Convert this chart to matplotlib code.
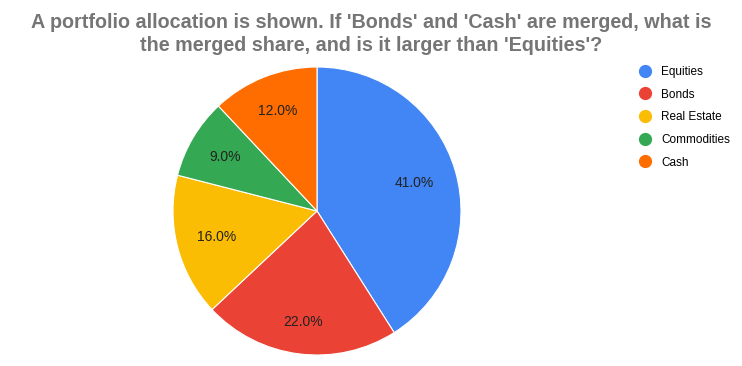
import matplotlib

matplotlib.use("Agg")
import matplotlib.pyplot as plt  # noqa: E402
import numpy as np  # noqa: E402
from matplotlib.lines import Line2D  # noqa: E402

labels = ["Equities", "Bonds", "Real Estate", "Commodities", "Cash"]
shares = [41.0, 22.0, 16.0, 9.0, 12.0]
colors = ["#4285F4", "#EA4335", "#FBBC04", "#34A853", "#FF6D01"]
title = ("A portfolio allocation is shown. If 'Bonds' and 'Cash' are merged, what is\n"
         "the merged share, and is it larger than 'Equities'?")

# radial position of each percentage label (fraction of radius)
label_r = [0.70, 0.78, 0.72, 0.74, 0.75]

plt.rcParams["font.family"] = ["Liberation Sans", "DejaVu Sans"]

W, H = 742, 366
fig = plt.figure(figsize=(W / 100, H / 100), dpi=100)
fig.patch.set_facecolor("white")

# pie centred at (317, 211) px, radius 144 px
cx, cy, r = 317, 211, 144
ax = fig.add_axes([(cx - r) / W, (H - cy - r) / H, 2 * r / W, 2 * r / H])
wedges, _, autotexts = ax.pie(
    shares, colors=colors, startangle=90, counterclock=False,
    autopct="%.1f%%", pctdistance=0.7,
    wedgeprops={"edgecolor": "white", "linewidth": 0.8},
    textprops={"fontsize": 10, "color": "#222222"})
for w, t, d in zip(wedges, autotexts, label_r):
    mid = np.deg2rad((w.theta1 + w.theta2) / 2)
    t.set_position((d * np.cos(mid), d * np.sin(mid)))
ax.set_xlim(-1, 1)
ax.set_ylim(-1, 1)
ax.set_aspect("equal")

fig.text(0.5, 1 - 34 / H, title, ha="center", va="center", fontsize=14.2,
         fontweight="bold", color="#757575", linespacing=1.25)

handles = [Line2D([], [], marker="o", ls="", markersize=8.5, markerfacecolor=c,
                  markeredgecolor=c) for c in colors]
fig.legend(handles, labels, loc="upper left", bbox_to_anchor=(638 / W, 1 - 66 / H),
           frameon=False, fontsize=8.5, handletextpad=0.75, labelspacing=0.9,
           handlelength=1.2, borderaxespad=0, borderpad=0)

fig.savefig("out.png", dpi=100, facecolor="white")
